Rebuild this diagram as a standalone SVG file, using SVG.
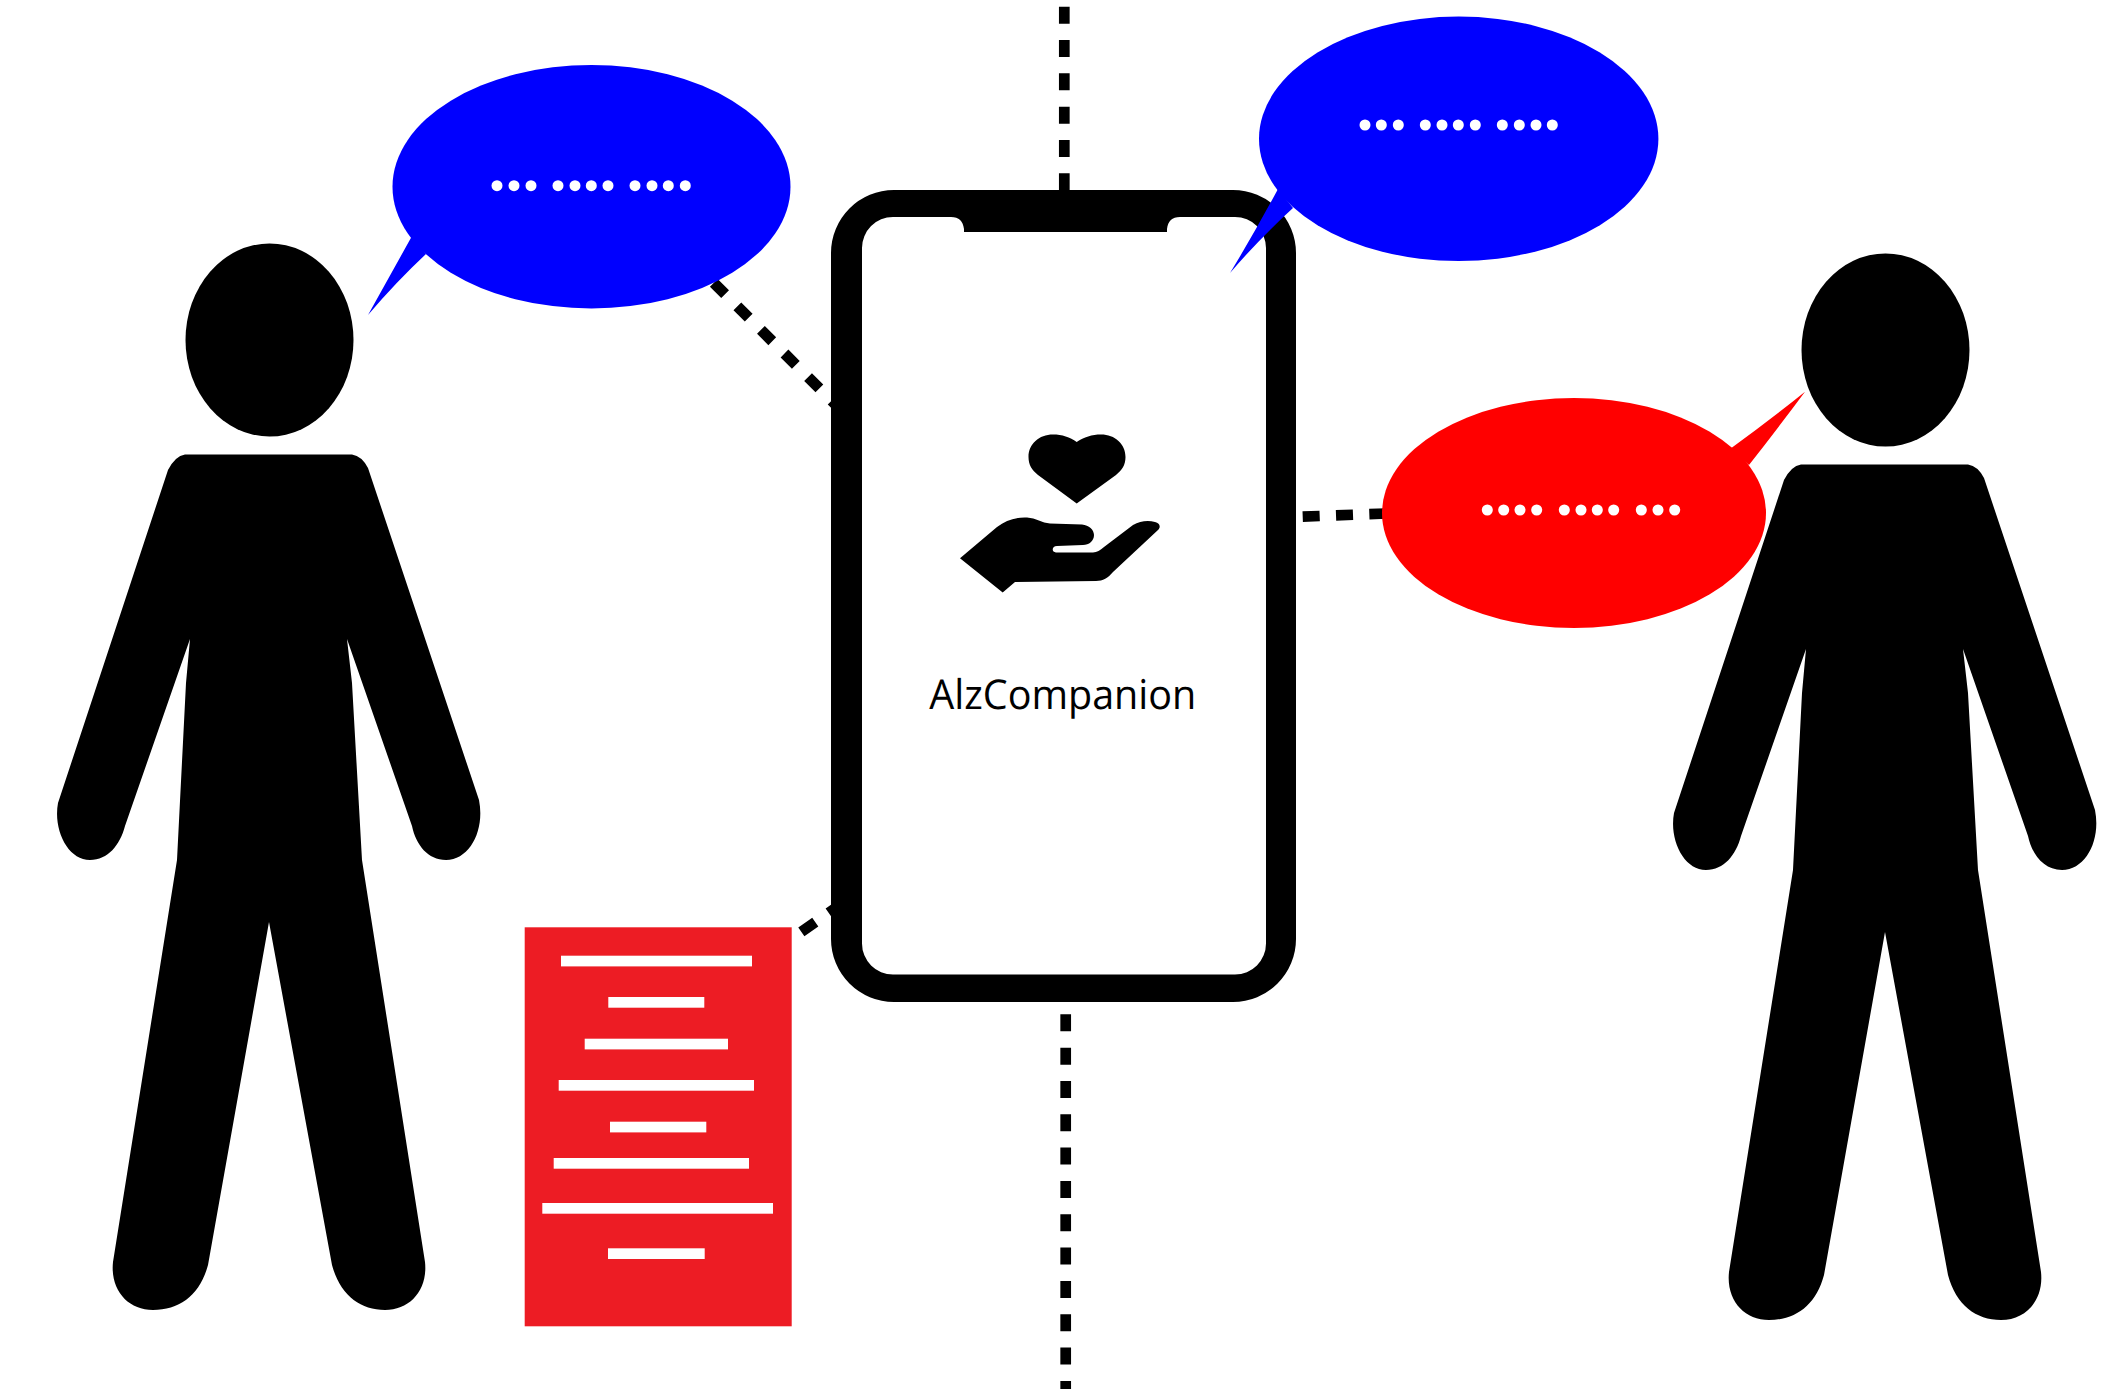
<svg xmlns="http://www.w3.org/2000/svg" width="2128" height="1389" viewBox="0 0 2128 1389">
<style>
.dash{fill:none;stroke:#000;stroke-width:10.7;stroke-dasharray:17 16.33}
.dash-diag{fill:none;stroke:#000;stroke-width:11;stroke-dasharray:16 17.33}
.doc-line{fill:#fff}
.label{font-family:"Open Sans","Noto Sans","Liberation Sans",sans-serif;font-size:41px;fill:#000;text-rendering:geometricPrecision}
</style>
<defs>
<circle id="dot" r="5.5" fill="#fff"/>
<g id="person-shape" fill="#000">
<ellipse cx="269.5" cy="340" rx="84" ry="96.5"/>
<path d="M185,454.4 L352,454.4 Q362,456 368,468 L479,800 C485,830 470,860 446,860 C428,860 416,845 412,826 L347,639 L352,683 L362,860 L425,1262 C428,1290 410,1310 385,1310 C360,1310 340,1295 332,1265 L269,922 L208,1265 C200,1295 180,1310 153,1310 C128,1310 110,1290 113,1262 L177,860 L186,683 L190,639 L125,826 C120,845 108,860 90,860 C68,860 53,830 58,803 L168,470 Q175,456 185,454.4 Z"/>
</g>
</defs>
<rect width="2128" height="1389" fill="#fff"/>
<g id="connectors">
<line class="dash" x1="1064.3" y1="6.7" x2="1064.3" y2="196"/>
<line class="dash" x1="1065.7" y1="1014.3" x2="1065.7" y2="1389"/>
<line class="dash-diag" x1="713.8" y1="282.8" x2="845" y2="414"/>
<line class="dash" x1="774" y1="950.9" x2="850" y2="897.9"/>
<line class="dash" x1="1302.7" y1="516.6" x2="1392" y2="513.3"/>
</g>
<g id="person-left"><use href="#person-shape"/></g>
<g id="person-right"><use href="#person-shape" transform="translate(1616 10)"/></g>
<g id="phone">
<path fill="#000" fill-rule="evenodd" d="M894,190 L1233,190 A63,63 0 0 1 1296,253 L1296,939 A63,63 0 0 1 1233,1002 L894,1002 A63,63 0 0 1 831,939 L831,253 A63,63 0 0 1 894,190 Z M893,217 L951,217 C959,217 963,221 964,229 L964,232 L1167,232 L1167,229 C1168,221 1172,217 1180,217 L1235,217 A31,31 0 0 1 1266,248 L1266,943.5 A31,31 0 0 1 1235,974.5 L893,974.5 A31,31 0 0 1 862,943.5 L862,248 A31,31 0 0 1 893,217 Z"/>
<path fill="#000" d="M1076.7,442 C1070,437 1062,434.5 1053,434.5 C1039,434.5 1028.5,444 1028.5,457 C1028.5,465 1032,470 1038,475 L1076.7,503.5 L1116,475 C1122,470 1125.5,465 1125.5,457 C1125.5,444 1115,434.5 1101,434.5 C1092,434.5 1084,437 1076.7,442 Z"/>
<path fill="#000" d="M960,558.3 L997,527 C1006,520 1016,517 1027,517.5 C1036,518 1042,523 1050,523.5 L1082,524.5 C1089,525 1094,530 1094,535 C1094,541 1089,545 1083,545 L1057,546 C1052,546 1051,552 1056,552.5 L1093,552.5 C1097,552.5 1100,550 1104,547 L1133,525 C1140,521 1148,520 1155,522 C1160,523 1161,527 1158,530 L1113,572 C1108,578 1103,581 1096,581 L1015,582 L1002.7,592.5 Z"/>
<text class="label" x="929.3" y="709.3" textLength="267" lengthAdjust="spacingAndGlyphs">AlzCompanion</text>
</g>
<g id="document">
<rect x="524.7" y="927.3" width="267" height="399" fill="#ed1c24"/>
<rect class="doc-line" x="561" y="955.7" width="191" height="10.7"/>
<rect class="doc-line" x="608.3" y="997" width="96" height="10.7"/>
<rect class="doc-line" x="584.7" y="1038.7" width="143.3" height="10.7"/>
<rect class="doc-line" x="558.7" y="1080" width="195.3" height="10.7"/>
<rect class="doc-line" x="610" y="1121.7" width="96.3" height="10.7"/>
<rect class="doc-line" x="553.7" y="1158" width="195.3" height="10.7"/>
<rect class="doc-line" x="542.3" y="1203" width="230.7" height="10.7"/>
<rect class="doc-line" x="608" y="1248.3" width="96.7" height="10.7"/>
</g>
<g id="bubble-left">
<ellipse cx="591.5" cy="186.7" rx="199" ry="121.7" fill="#0000ff"/>
<path d="M368,315 Q392,272 412,236 L426,254 Q396,282 368,315 Z" fill="#0000ff"/>
<g>
<use href="#dot" x="497" y="185.7"/><use href="#dot" x="514" y="185.7"/><use href="#dot" x="531" y="185.7"/>
<use href="#dot" x="558" y="185.7"/><use href="#dot" x="575" y="185.7"/><use href="#dot" x="591.3" y="185.7"/><use href="#dot" x="608" y="185.7"/>
<use href="#dot" x="635" y="185.7"/><use href="#dot" x="652" y="185.7"/><use href="#dot" x="668.3" y="185.7"/><use href="#dot" x="685.3" y="185.7"/>
</g>
</g>
<g id="bubble-top">
<ellipse cx="1458.7" cy="138.8" rx="199.7" ry="122.2" fill="#0000ff"/>
<path d="M1230,273 Q1255,232 1278,189 L1293,208 Q1260,238 1230,273 Z" fill="#0000ff"/>
<g>
<use href="#dot" x="1365" y="125"/><use href="#dot" x="1381.3" y="125"/><use href="#dot" x="1398.3" y="125"/>
<use href="#dot" x="1425.3" y="125"/><use href="#dot" x="1442" y="125"/><use href="#dot" x="1458.3" y="125"/><use href="#dot" x="1475.3" y="125"/>
<use href="#dot" x="1502.3" y="125"/><use href="#dot" x="1519.3" y="125"/><use href="#dot" x="1536" y="125"/><use href="#dot" x="1552.3" y="125"/>
</g>
</g>
<g id="bubble-right">
<ellipse cx="1574" cy="513" rx="192" ry="115" fill="#ff0000"/>
<path d="M1805,391.7 Q1770,420 1730,449 L1749,465 Q1778,428 1805,391.7 Z" fill="#ff0000"/>
<g>
<use href="#dot" x="1487.3" y="510"/><use href="#dot" x="1503.7" y="510"/><use href="#dot" x="1520" y="510"/><use href="#dot" x="1536.7" y="510"/>
<use href="#dot" x="1564.3" y="510"/><use href="#dot" x="1581" y="510"/><use href="#dot" x="1597.3" y="510"/><use href="#dot" x="1613.7" y="510"/>
<use href="#dot" x="1641.3" y="510"/><use href="#dot" x="1658" y="510"/><use href="#dot" x="1674.7" y="510"/>
</g>
</g>
</svg>
